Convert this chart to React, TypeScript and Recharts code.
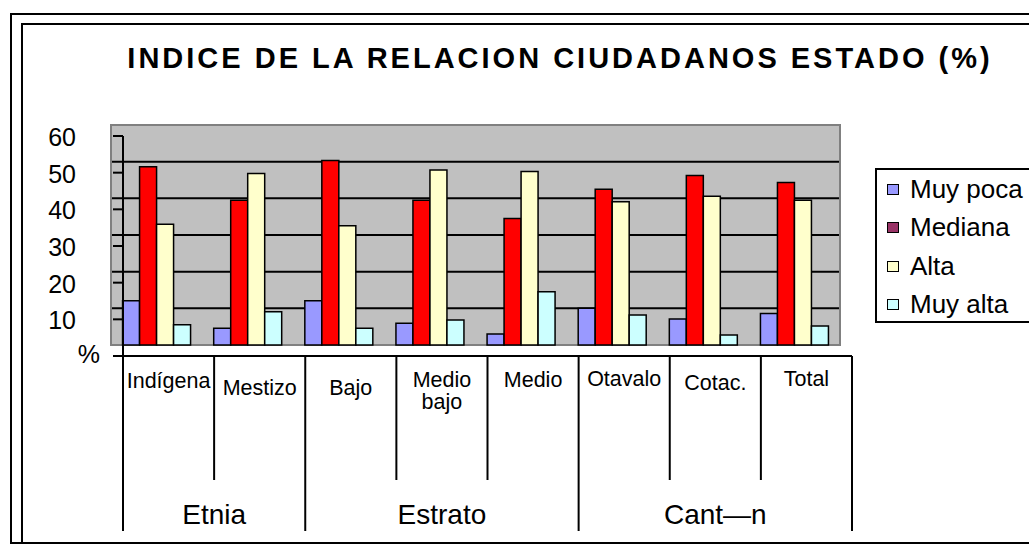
import React from "react";
import { BarChart, Bar, XAxis, YAxis, CartesianGrid, ReferenceArea } from "recharts";

// ---------- data ----------
const title = "INDICE DE LA RELACION CIUDADANOS ESTADO (%)";
const categories = ["Indígena", "Mestizo", "Bajo", "Medio bajo", "Medio", "Otavalo", "Cotac.", "Total"];
const categoryLines = [["Indígena"], ["Mestizo"], ["Bajo"], ["Medio", "bajo"], ["Medio"], ["Otavalo"], ["Cotac."], ["Total"]];
const groupNames = ["Etnia", "Estrato", "Cant—n"];
const groupSizes = [2, 3, 3];
const seriesNames = ["Muy poca", "Mediana", "Alta", "Muy alta"];
const muyPoca = [12.1, 4.6, 12.1, 5.9, 3.0, 10.0, 7.1, 8.6];
const mediana = [48.6, 39.5, 50.3, 39.5, 34.5, 42.5, 46.2, 44.3];
const alta = [32.9, 46.8, 32.5, 47.7, 47.3, 39.1, 40.6, 39.5];
const muyAlta = [5.5, 9.1, 4.6, 6.8, 14.5, 8.2, 2.7, 5.2];
const yTicks = [0, 10, 20, 30, 40, 50, 60];

// ---------- styles ----------
const FONT = "'Liberation Sans', Arial, sans-serif";
const barColors = ["#9999FF", "#FF0000", "#FFFFCC", "#CCFFFF"];
const legendColors = ["#9999FF", "#993366", "#FFFFCC", "#CCFFFF"];
const seriesKeys = ["muyPoca", "mediana", "alta", "muyAlta"];
const catLabelDy = [25, 32, 32, 24, 24, 23, 27, 23];
const W = 1029;
const H = 544;
const MARGIN = { top: 125, right: 189, bottom: 199, left: 111 };
const BAND_HALF = (W - MARGIN.left - MARGIN.right) / categories.length / 2;

const data = categories.map((c, i) => ({
  cat: c,
  muyPoca: muyPoca[i],
  mediana: mediana[i],
  alta: alta[i],
  muyAlta: muyAlta[i],
}));

const groupStarts: number[] = [];
{
  let s = 0;
  groupSizes.forEach((n) => {
    groupStarts.push(s);
    s += n;
  });
}

const renderCatTick = (props: any) => {
  const { x, y, payload } = props;
  const i = typeof props.index === "number" ? props.index : categories.indexOf(payload.value);
  const half = payload && payload.offset ? payload.offset : BAND_HALF;
  const left = x - half;
  const right = x + half;
  const gIdx = groupStarts.indexOf(i);
  const isGroupStart = gIdx >= 0;
  const isLast = i === categories.length - 1;
  const lines = categoryLines[i] || [String(payload.value)];
  return (
    <g>
      <line x1={left} x2={left} y1={y} y2={y + (isGroupStart ? 175 : 124)} stroke="#000" strokeWidth={2} />
      {isLast && <line x1={right} x2={right} y1={y} y2={y + 175} stroke="#000" strokeWidth={2} />}
      <text x={x} y={y + catLabelDy[i]} textAnchor="middle" fontFamily={FONT} fontSize={21.5} fill="#000" dominantBaseline="central">
        {lines.map((ln, k) => (
          <tspan key={k} x={x} dy={k === 0 ? 0 : 22}>
            {ln}
          </tspan>
        ))}
      </text>
      {isGroupStart && (
        <text
          x={left + half * groupSizes[gIdx]}
          y={y + 158}
          textAnchor="middle"
          dominantBaseline="central"
          fontFamily={FONT}
          fontSize={28}
          fill="#000"
        >
          {groupNames[gIdx]}
        </text>
      )}
    </g>
  );
};

const renderYTick = (props: any) => {
  const { x, y, payload } = props;
  const isZero = payload.value === 0;
  return (
    <text
      x={isZero ? x - 11 : x - 35}
      y={y + (isZero ? -2 : 1)}
      textAnchor="end"
      dominantBaseline="central"
      fontFamily={FONT}
      fontSize={25}
      fill="#000"
    >
      {isZero ? "%" : String(payload.value)}
    </text>
  );
};

export default function App() {
  return (
    <div
      style={{
        position: "absolute",
        left: 0,
        top: 0,
        width: W,
        height: H,
        overflow: "hidden",
        background: "#fff",
        fontFamily: FONT,
      }}
    >
      {/* frames */}
      <div style={{ position: "absolute", left: 10, top: 13, width: 1060, height: 531, border: "2px solid #000", boxSizing: "border-box" }} />
      <div style={{ position: "absolute", left: 21, top: 23, width: 1060, height: 521, border: "2px solid #000", boxSizing: "border-box" }} />

      {/* title */}
      <div
        style={{
          position: "absolute",
          left: 0,
          top: 44,
          width: 1120,
          textAlign: "center",
          fontWeight: "bold",
          fontSize: 29,
          lineHeight: "28px",
          letterSpacing: "3px",
          whiteSpace: "nowrap",
          color: "#000",
        }}
      >
        {title}
      </div>

      {/* bars + plot area */}
      <div style={{ position: "absolute", left: 0, top: 0 }}>
        <BarChart width={W} height={H} data={data} margin={MARGIN} barCategoryGap="12.7%" barGap={0}>
          <XAxis dataKey="cat" hide />
          <YAxis hide domain={[0, 60]} ticks={yTicks} />
          <CartesianGrid vertical={false} fill="#C0C0C0" fillOpacity={1} stroke="#000" strokeWidth={2} />
          <ReferenceArea y1={0} y2={60} fill="none" stroke="#808080" strokeWidth={2} />
          {seriesKeys.map((k, i) => (
            <Bar key={k} dataKey={k} name={seriesNames[i]} fill={barColors[i]} stroke="#000" strokeWidth={1.5} isAnimationActive={false} />
          ))}
        </BarChart>
      </div>

      {/* shifted axes overlay */}
      <div style={{ position: "absolute", left: 12, top: 11 }}>
        <BarChart width={W} height={H} data={data} margin={{ top: 125, right: 189, bottom: 19, left: 51 }}>
          <XAxis
            dataKey="cat"
            height={180}
            interval={0}
            tickLine={false}
            tickSize={0}
            tickMargin={0}
            axisLine={{ stroke: "#000", strokeWidth: 2 }}
            tick={renderCatTick}
          />
          <YAxis
            width={60}
            domain={[0, 60]}
            ticks={yTicks}
            interval={0}
            tickSize={10}
            tickMargin={2}
            tickLine={{ stroke: "#000", strokeWidth: 2 }}
            axisLine={{ stroke: "#000", strokeWidth: 2 }}
            tick={renderYTick}
          />
          <Bar dataKey="muyPoca" fill="none" stroke="none" fillOpacity={0} isAnimationActive={false} />
        </BarChart>
      </div>

      {/* legend */}
      <div
        style={{
          position: "absolute",
          left: 875,
          top: 168,
          width: 200,
          height: 155,
          border: "2px solid #000",
          boxSizing: "border-box",
          background: "#fff",
        }}
      >
        {seriesNames.map((n, i) => (
          <div key={n} style={{ height: 38.5, display: "flex", alignItems: "center", fontSize: 26, color: "#000", whiteSpace: "nowrap" }}>
            <span
              style={{
                display: "inline-block",
                width: 12,
                height: 11,
                marginLeft: 10,
                marginRight: 11,
                background: legendColors[i],
                border: "1.5px solid #000",
                boxSizing: "border-box",
              }}
            />
            {n}
          </div>
        ))}
      </div>
    </div>
  );
}
